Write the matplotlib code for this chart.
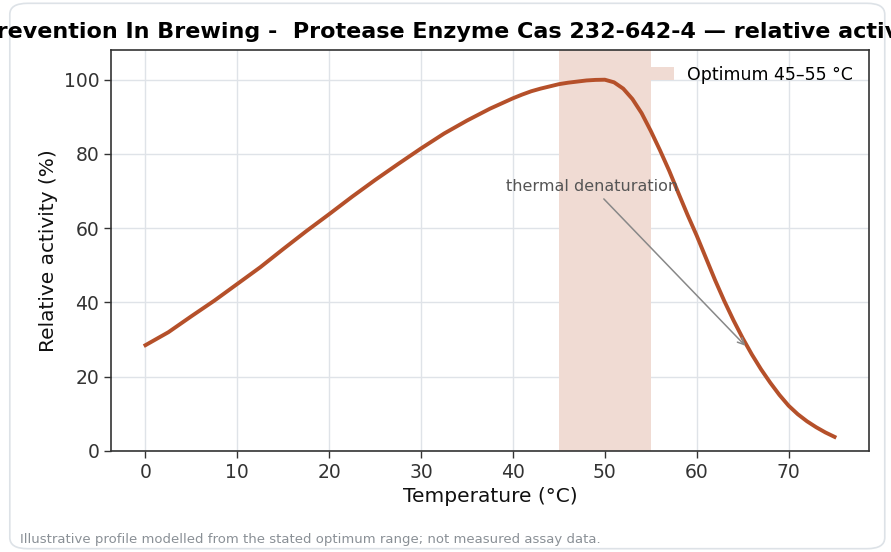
import matplotlib.pyplot as plt
from matplotlib.patches import FancyBboxPatch

# temperature (°C) and relative activity (%)
temp = [0, 2.5, 5, 7.5, 10, 12.5, 15, 17.5, 20, 22.5, 25, 27.5, 30, 32.5, 35,
        37.5, 40, 41, 42, 43, 44, 45, 46, 47, 48, 49, 50,
        51, 52, 53, 54, 55, 56, 57, 58, 59, 60, 61, 62, 63, 64, 65,
        66, 67, 68, 69, 70, 71, 72, 73, 74, 75]
activity = [28.5, 32.0, 36.3, 40.5, 45.0, 49.5, 54.4, 59.2, 63.8, 68.5, 73.0,
            77.3, 81.5, 85.5, 89.0, 92.2, 95.0, 96.0, 96.9, 97.6, 98.2, 98.8,
            99.2, 99.5, 99.8, 99.95, 100.0,
            99.3, 97.6, 94.8, 91.0, 86.2, 81.0, 75.5, 69.5, 63.6, 58.0, 52.0,
            46.0, 40.4, 35.2, 30.4, 26.0, 22.0, 18.4, 15.1, 12.2, 9.9, 8.0,
            6.4, 5.0, 3.8]
opt_lo, opt_hi = 45, 55
arrow_at = (65.5, 27.8)
text_at = (48.6, 71.2)

title = "Haze Prevention In Brewing -  Protease Enzyme Cas 232-642-4 \u2014 relative activity"
hidden = "Haze Pr"  # part of the title that falls off the left edge in the reference
line_col = "#b5502a"

fig = plt.figure(figsize=(8.91, 5.52), dpi=100)
card = FancyBboxPatch((0.011, 0.006), 0.982, 0.988, boxstyle="round,pad=0,rounding_size=0.02",
                      transform=fig.transFigure, facecolor="white", edgecolor="#dde2e7",
                      linewidth=1.2, zorder=-10)
fig.patches.append(card)

ax = fig.add_axes([0.1246, 0.183, 0.8507, 0.7264])
ax.axvspan(opt_lo, opt_hi, color="#f0dbd3", lw=0, label="Optimum 45\u201355 \u00b0C", zorder=1)
ax.plot(temp, activity, color=line_col, lw=2.8, zorder=3, solid_joinstyle="round")

ax.annotate("thermal denaturation", xy=arrow_at, xytext=text_at, ha="center", va="center",
            fontsize=11.5, color="#555555",
            arrowprops=dict(arrowstyle="->", color="#888888", lw=1.1))

ax.set_xlim(-3.75, 78.75)
ax.set_ylim(0, 108)
ax.set_xticks(range(0, 71, 10))
ax.set_yticks(range(0, 101, 20))
ax.grid(True, color="#dfe3e8", lw=1, zorder=0)
ax.set_axisbelow(True)
for s in ax.spines.values():
    s.set_color("#333333")
    s.set_linewidth(1.2)
ax.tick_params(labelsize=13.5, colors="#333333", length=5, width=1)
ax.set_xlabel("Temperature (\u00b0C)", fontsize=14.5, color="#111111")
ax.set_ylabel("Relative activity (%)", fontsize=14.5, color="#111111")

leg = ax.legend(loc="upper right", frameon=False, fontsize=12.5, handlelength=2.4)

# title: shift it so that the same part is clipped on the left as in the reference
r = fig.canvas.get_renderer()
tmp = fig.text(0, 0, hidden, fontsize=16, fontweight="bold")
w_hidden = tmp.get_window_extent(r).width
tmp.remove()
x0 = (8 - w_hidden) / fig.bbox.width
fig.text(x0, 0.942, title, ha="left", va="center", fontsize=16, fontweight="bold")

fig.text(0.023, 0.022, "Illustrative profile modelled from the stated optimum range; not measured assay data.",
         fontsize=9.5, color="#8a9096", ha="left", va="center")

fig.savefig("out.png", dpi=100)
